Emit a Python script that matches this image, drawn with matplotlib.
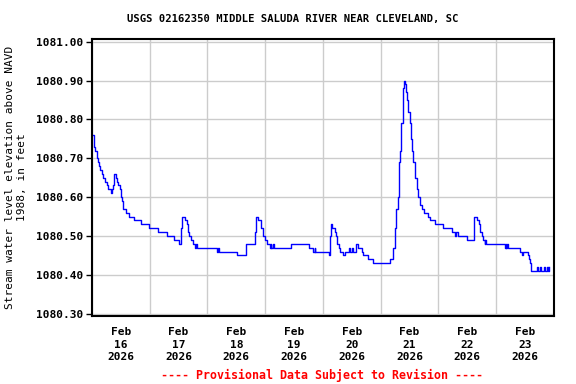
import numpy as np
import matplotlib
matplotlib.use('Agg')
import matplotlib.pyplot as plt
import matplotlib.dates as mdates

# Hours since 2026-02-16 00:00 and gage height readings (ft, NAVD 1988)
hours = [
    0.0, 0.75, 1.25, 2.2, 2.4, 2.8, 3.3, 4.3, 4.7, 5.4, 6.1, 6.8, 7.9, 8.4, 8.9,
    9.3, 9.8, 10.6, 11.0, 11.5, 12.0, 12.6, 13.0, 14.1, 15.5, 17.6, 20.4, 23.8,
    27.6, 31.0, 34.1, 36.2, 37.1, 37.4, 38.6, 39.4, 39.8, 40.3, 41.0, 42.0, 42.7,
    43.2, 43.5, 51.8, 52.3, 52.6, 60.1, 63.8, 67.7, 68.2, 69.1, 70.1, 71.0, 72.0,
    72.7, 73.9, 74.4, 74.6, 75.4, 75.6, 82.8, 90.0, 91.9, 92.5, 92.8, 98.6, 98.9,
    99.4, 99.8, 101.0, 101.5, 102.0, 102.5, 103.0, 104.4, 105.1, 106.8, 107.3,
    108.0, 108.5, 109.7, 110.6, 112.1, 112.8, 114.7, 116.9, 123.8, 125.0, 125.8,
    126.2, 127.0, 127.4, 127.7, 128.0, 128.4, 129.1, 129.6, 130.1, 130.6, 131.0,
    131.5, 132.0, 132.5, 133.0, 133.4, 134.2, 134.9, 135.6, 136.3, 137.0, 137.8,
    139.7, 140.4, 142.6, 145.9, 149.5, 150.7, 151.4, 151.9, 153.6, 155.8, 158.6,
    160.1, 160.8, 161.3, 162.0, 162.7, 163.2, 163.5, 163.9, 171.6, 171.9, 172.1,
    172.3, 173.0, 177.8, 178.6, 179.0, 181.0, 181.7, 182.0, 182.6, 184.8, 185.3,
    186.2, 186.7, 187.7, 188.2, 189.1, 189.6, 190.0,
]
stage = [
    1080.76, 1080.73, 1080.72, 1080.70, 1080.69, 1080.68, 1080.67, 1080.66,
    1080.65, 1080.64, 1080.63, 1080.62, 1080.61, 1080.62, 1080.63, 1080.66,
    1080.65, 1080.64, 1080.63, 1080.62, 1080.60, 1080.59, 1080.57, 1080.56,
    1080.55, 1080.54, 1080.53, 1080.52, 1080.51, 1080.50, 1080.49, 1080.48,
    1080.52, 1080.55, 1080.54, 1080.53, 1080.51, 1080.50, 1080.49, 1080.48,
    1080.47, 1080.48, 1080.47, 1080.46, 1080.47, 1080.46, 1080.45, 1080.48,
    1080.51, 1080.55, 1080.54, 1080.52, 1080.50, 1080.49, 1080.48, 1080.47,
    1080.48, 1080.47, 1080.48, 1080.47, 1080.48, 1080.47, 1080.46, 1080.47,
    1080.46, 1080.45, 1080.50, 1080.53, 1080.52, 1080.51, 1080.50, 1080.48,
    1080.47, 1080.46, 1080.45, 1080.46, 1080.47, 1080.46, 1080.47, 1080.46,
    1080.48, 1080.47, 1080.46, 1080.45, 1080.44, 1080.43, 1080.44, 1080.47,
    1080.52, 1080.57, 1080.60, 1080.65, 1080.69, 1080.72, 1080.79, 1080.88,
    1080.90, 1080.89, 1080.87, 1080.85, 1080.82, 1080.79, 1080.75, 1080.72,
    1080.69, 1080.65, 1080.62, 1080.60, 1080.58, 1080.57, 1080.56, 1080.55,
    1080.54, 1080.53, 1080.52, 1080.51, 1080.50, 1080.51, 1080.50, 1080.50,
    1080.49, 1080.55, 1080.54, 1080.53, 1080.51, 1080.50, 1080.49, 1080.48,
    1080.49, 1080.48, 1080.47, 1080.48, 1080.47, 1080.48, 1080.47, 1080.46,
    1080.45, 1080.46, 1080.45, 1080.44, 1080.43, 1080.41, 1080.42, 1080.41,
    1080.42, 1080.41, 1080.42, 1080.41, 1080.42, 1080.41, 1080.42,
]
y_ticks = [1080.30, 1080.40, 1080.50, 1080.60, 1080.70, 1080.80, 1080.90, 1081.00]

start = np.datetime64('2026-02-16T00:00')
times = start + (np.array(hours) * 60).astype('timedelta64[m]')

plt.rcParams['font.family'] = ['DejaVu Sans Mono']
plt.rcParams['font.weight'] = 'bold'

fig = plt.figure(figsize=(5.76, 3.84), dpi=100)
ax = fig.add_axes([0.1597, 0.1771, 0.8021, 0.7213])

ax.plot(times, stage, color='#0000ff', linewidth=1.0, drawstyle='steps-post')

ax.set_xlim(start, start + np.timedelta64(8, 'D'))
ax.set_ylim(1080.294, 1081.007)
ax.set_yticks(y_ticks)
ax.set_yticklabels(['%.2f' % v for v in y_ticks])

# gridlines at midnight, labels at noon
ax.xaxis.set_major_locator(mdates.DayLocator())
ax.xaxis.set_major_formatter(plt.NullFormatter())
ax.xaxis.set_minor_locator(mdates.HourLocator(byhour=[12]))
ax.xaxis.set_minor_formatter(mdates.DateFormatter('%b\n%d\n%Y'))
ax.tick_params(axis='x', which='both', length=0, labelsize=8, pad=8)
ax.tick_params(axis='y', direction='out', length=4, labelsize=8, width=1, pad=2.5)
for lab in ax.get_xticklabels(minor=True):
    lab.set_linespacing(1.3)

ax.grid(True, which='major', color='#cccccc', linewidth=1.0)
ax.set_axisbelow(True)
for s in ax.spines.values():
    s.set_linewidth(1.5)
    s.set_color('black')

ax.set_ylabel('Stream water level elevation above NAVD\n1988, in feet',
              fontsize=8, labelpad=6, linespacing=1.3)
fig.text(0.508, 0.951, 'USGS 02162350 MIDDLE SALUDA RIVER NEAR CLEVELAND, SC',
         ha='center', va='center', fontsize=7.6)
fig.text(0.559, 0.023, '---- Provisional Data Subject to Revision ----',
         ha='center', va='center', fontsize=8.4, color='red')

fig.savefig('out.png', dpi=100)
